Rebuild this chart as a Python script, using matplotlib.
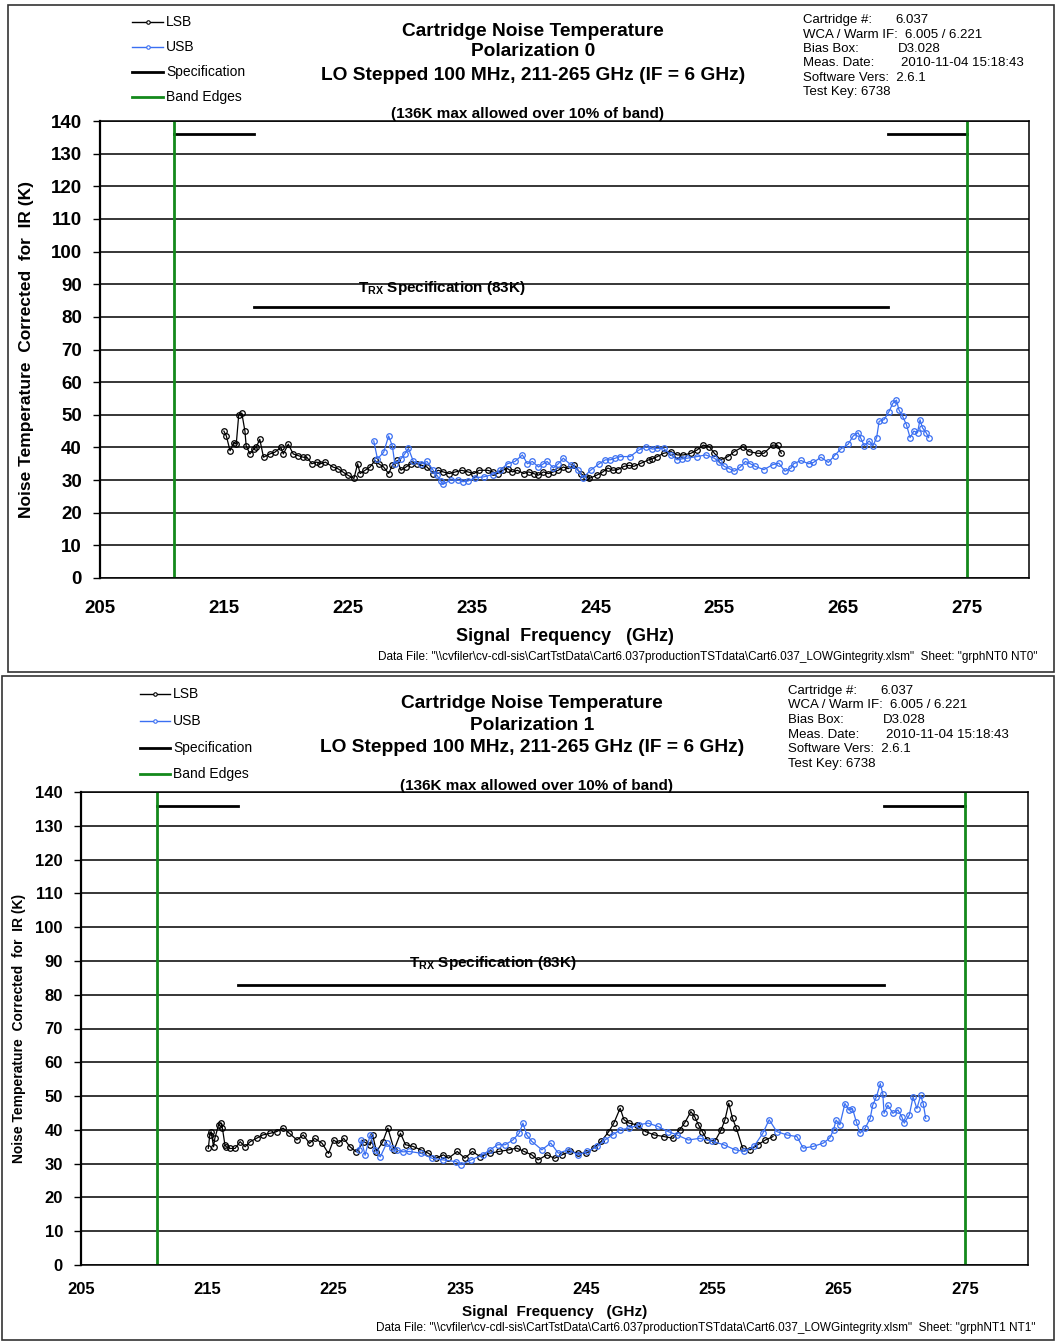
"""
    Cartridge noise temperature, polarization 0 and 1 (LSB / USB).
"""

import matplotlib
matplotlib.use("Agg")
import matplotlib.pyplot as plt
from matplotlib.lines import Line2D
from matplotlib.patches import Rectangle

plt.rcParams['font.family'] = ['Liberation Sans', 'DejaVu Sans']
plt.rcParams['mathtext.fontset'] = 'custom'
plt.rcParams['mathtext.rm'] = 'Liberation Sans'
plt.rcParams['mathtext.bf'] = 'Liberation Sans:bold'

W, H = 1055, 1341
BLUE = "#3a6ff2"
GREEN = "#13891b"

# ---- data, polarization 0 ----
lsb0_f = [215.0, 215.2, 215.5, 215.8, 216.0, 216.2, 216.45, 216.7, 216.8, 217.1, 217.4, 217.6, 217.9, 218.2,
          218.7, 219.1, 219.6, 219.8, 220.2, 220.6, 221.0, 221.4, 221.7, 222.1, 222.5, 222.8, 223.2, 223.8,
          224.2, 224.6, 225.0, 225.5, 225.8, 226.0, 226.4, 226.8, 227.2, 227.5, 227.9, 228.3, 228.6, 229.0,
          229.3, 229.7, 230.1, 230.6, 231.0, 231.4, 231.9, 232.3, 232.7, 233.2, 233.7, 234.2, 234.7, 235.2,
          235.6, 236.3, 236.7, 237.1, 237.5, 237.9, 238.3, 238.7, 239.2, 239.6, 240.0, 240.4, 240.8, 241.2,
          241.6, 242.0, 242.4, 242.8, 243.3, 243.8, 244.2, 244.5, 245.1, 245.6, 246.0, 246.4, 246.8, 247.3,
          247.7, 248.1, 248.7, 249.3, 249.6, 250.0, 250.5, 251.1, 251.6, 252.1, 252.7, 253.2, 253.7, 254.2,
          254.6, 255.1, 255.7, 256.2, 256.9, 257.4, 258.1, 258.6, 259.3, 259.7, 260.0]
lsb0_t = [45.0, 43.5, 39.0, 41.5, 41.0, 50.0, 50.5, 45.0, 40.5, 38.0, 39.5, 40.0, 42.5, 37.0,
          38.0, 38.5, 40.0, 38.0, 41.0, 38.0, 37.5, 37.0, 37.0, 35.0, 35.5, 35.0, 35.5, 34.0,
          33.5, 32.5, 31.5, 30.5, 35.0, 32.0, 33.0, 34.0, 36.0, 35.0, 34.0, 32.0, 34.5, 36.0,
          33.0, 34.0, 35.0, 35.0, 34.5, 34.0, 32.0, 33.0, 32.5, 32.0, 32.5, 33.0, 32.5, 32.0,
          33.0, 33.0, 32.5, 32.0, 33.0, 33.5, 32.5, 33.0, 32.0, 32.5, 32.0, 31.5, 32.5, 32.0,
          32.5, 33.0, 34.0, 33.5, 34.5, 32.0, 31.0, 30.5, 31.5, 32.5, 33.7, 33.0, 33.2, 34.2,
          34.5, 34.2, 35.2, 36.2, 36.5, 37.2, 38.2, 38.7, 37.7, 37.7, 38.2, 39.2, 40.7, 40.2,
          38.2, 36.2, 37.2, 38.7, 40.2, 38.7, 38.2, 38.2, 40.7, 40.7, 38.2]

usb0_f = [227.1, 227.4, 227.9, 228.3, 228.6, 228.8, 229.3, 229.6, 229.9, 230.3, 230.9, 231.4, 231.9, 232.2,
          232.5, 232.7, 233.3, 233.9, 234.3, 234.7, 235.3, 236.0, 236.7, 237.3, 237.9, 238.5, 239.1, 239.5,
          239.9, 240.4, 240.8, 241.1, 241.6, 242.0, 242.4, 243.0, 243.6, 244.0, 244.6, 245.3, 245.8, 246.2,
          246.6, 247.0, 247.8, 248.5, 249.1, 249.6, 250.0, 250.5, 251.1, 251.6, 252.0, 252.4, 253.2, 253.9,
          254.6, 255.0, 255.4, 255.8, 256.2, 256.7, 257.1, 257.5, 257.9, 258.6, 259.3, 259.8, 260.3, 260.8,
          261.0, 261.6, 262.2, 262.6, 263.2, 263.8, 264.3, 264.8, 265.4, 265.8, 266.2, 266.4, 266.7, 267.1,
          267.4, 267.7, 267.9, 268.3, 268.7, 269.0, 269.3, 269.5, 269.8, 270.1, 270.4, 270.7, 271.0, 271.2,
          271.4, 271.7, 271.9]
usb0_t = [42.0, 36.5, 38.5, 43.5, 40.5, 35.0, 36.5, 38.0, 39.7, 35.7, 35.0, 35.7, 33.0, 31.5,
          29.7, 28.7, 30.0, 30.0, 29.5, 29.7, 30.7, 31.0, 31.7, 33.0, 35.0, 35.7, 37.7, 35.0,
          35.7, 34.0, 35.0, 35.7, 33.7, 35.0, 36.7, 34.7, 33.0, 30.7, 33.0, 35.0, 36.2, 36.2,
          36.7, 37.2, 37.2, 39.2, 40.2, 39.5, 39.7, 39.7, 37.7, 36.2, 36.5, 36.7, 37.2, 37.7,
          36.7, 35.5, 34.2, 33.5, 32.7, 34.0, 35.7, 35.0, 34.2, 33.2, 34.7, 35.2, 32.7, 33.7,
          35.0, 36.0, 35.0, 35.4, 37.0, 35.4, 37.5, 39.5, 41.0, 43.5, 44.5, 43.0, 40.5, 42.0,
          40.5, 43.0, 48.0, 48.5, 51.0, 53.5, 54.5, 51.5, 49.5, 47.0, 43.0, 45.0, 44.5, 48.5,
          46.0, 44.5, 43.0]

# ---- data, polarization 1 ----
lsb1_f = [215.08, 215.2, 215.3, 215.5, 215.6, 215.9, 216.1, 216.2, 216.4, 216.5, 216.8, 217.2, 217.6, 218.0,
          218.4, 218.9, 219.4, 220.0, 220.5, 221.0, 221.5, 222.1, 222.6, 223.1, 223.5, 224.1, 224.6, 225.0,
          225.4, 225.8, 226.3, 226.8, 227.4, 227.9, 228.1, 228.4, 228.9, 229.3, 229.8, 230.3, 230.7, 231.3,
          231.9, 232.5, 233.1, 233.7, 234.1, 234.8, 235.4, 236.0, 236.6, 237.4, 238.1, 238.9, 239.5, 240.1,
          240.7, 241.2, 241.9, 242.5, 243.1, 243.7, 244.4, 245.0, 245.6, 246.2, 246.8, 247.2, 247.7, 248.0,
          248.4, 249.0, 249.7, 250.4, 251.2, 251.9, 252.4, 252.8, 253.3, 253.6, 253.9, 254.2, 254.6, 255.2,
          255.7, 256.0, 256.3, 256.6, 256.9, 257.4, 258.0, 258.6, 259.2, 259.8]
lsb1_t = [34.5, 38.5, 39.5, 35.0, 37.5, 41.5, 42.0, 40.5, 35.5, 35.0, 34.5, 34.5, 36.5, 35.0,
          36.5, 37.5, 38.5, 39.0, 39.5, 40.5, 39.0, 37.0, 38.5, 36.0, 37.5, 36.0, 33.0, 37.0,
          36.0, 37.5, 35.0, 33.5, 36.5, 35.5, 38.5, 33.5, 36.5, 40.5, 34.1, 39.0, 35.6, 35.1,
          34.1, 33.1, 31.6, 32.6, 31.6, 33.6, 31.6, 33.6, 32.1, 33.1, 33.6, 34.1, 34.6, 33.6,
          32.6, 31.1, 32.6, 31.6, 32.6, 33.6, 33.1, 33.1, 34.6, 36.6, 39.5, 42.0, 46.4, 43.0,
          42.0, 41.5, 39.5, 38.5, 38.0, 37.5, 40.0, 42.0, 45.4, 43.9, 41.5, 39.5, 37.0, 36.6,
          40.0, 43.0, 47.9, 43.4, 40.5, 34.6, 34.1, 35.6, 37.0, 38.0]

usb1_f = [227.0, 227.2, 227.5, 227.9, 228.3, 228.7, 229.2, 229.6, 230.0, 230.5, 231.0, 231.9, 232.8, 233.7,
          234.7, 235.1, 235.9, 236.8, 237.4, 238.0, 238.6, 239.2, 239.7, 240.0, 240.3, 240.7, 241.5, 242.2,
          242.8, 243.6, 244.4, 245.1, 245.9, 246.5, 247.1, 247.7, 248.4, 249.2, 249.9, 250.7, 251.5, 252.2,
          253.1, 254.0, 255.0, 255.9, 256.8, 257.5, 258.3, 259.0, 259.5, 260.1, 260.9, 261.7, 262.2, 263.0,
          263.8, 264.3, 264.6, 264.8, 265.1, 265.5, 265.8, 266.1, 266.4, 266.7, 267.1, 267.5, 267.7, 268.0,
          268.3, 268.5, 268.6, 268.9, 269.3, 269.7, 270.0, 270.2, 270.6, 270.9, 271.2, 271.5, 271.7, 271.9]
usb1_t = [34.0, 37.0, 32.5, 38.5, 34.0, 32.0, 36.0, 34.5, 34.0, 33.5, 33.6, 33.1, 31.6, 31.1,
          30.6, 29.7, 31.1, 32.6, 34.1, 35.6, 35.6, 37.0, 39.0, 42.0, 38.5, 36.6, 34.1, 36.1,
          33.1, 34.1, 32.6, 33.6, 35.1, 37.0, 38.5, 40.0, 40.5, 41.5, 42.0, 41.0, 39.5, 38.5,
          37.0, 37.5, 36.6, 35.6, 34.1, 33.6, 35.1, 39.0, 43.0, 39.5, 38.5, 38.0, 34.6, 35.1,
          36.1, 37.6, 40.0, 42.9, 41.5, 47.8, 45.9, 46.3, 42.4, 39.0, 40.5, 43.4, 47.3, 49.8,
          53.7, 50.7, 44.9, 47.3, 44.9, 45.9, 43.9, 42.0, 44.4, 49.8, 46.3, 50.2, 47.8, 43.4]

band_edges = [211, 275]
spec_limit = 83
spec_max = 136
spec_f = [217.4, 268.6]
x_ticks = [205, 215, 225, 235, 245, 255, 265, 275]
y_ticks = list(range(0, 141, 10))

info_keys = ["Cartridge #:", "WCA / Warm IF:  6.005 / 6.221", "Bias Box:", "Meas. Date:",
             "Software Vers:  2.6.1", "Test Key: 6738"]
info_vals = ["6.037", "", "D3.028", "2010-11-04 15:18:43", "", ""]
data_file = ('Data File: "\\\\cvfiler\\cv-cdl-sis\\CartTstData\\Cart6.037productionTSTdata\\'
             'Cart6.037_LOWGintegrity.xlsm"  Sheet: "grphNT{0} NT{0}"')


def fx(px):
    return px / W


def fy(py):
    return 1 - py / H


def draw_panel(fig, pol, box, frame, lsb, usb, sizes, anchors):
    tick_fs, ylab_fs, xlab_fs = sizes
    left, top, right, bottom = box
    ax = fig.add_axes([fx(left), fy(bottom), fx(right) - fx(left), fy(top) - fy(bottom)])

    for y in y_ticks:
        ax.axhline(y, color="black", lw=1.1, zorder=1)
    ax.plot(lsb[0], lsb[1], color="black", lw=0.9, marker="o", ms=4, mfc="none", mew=0.9, zorder=3)
    ax.plot(usb[0], usb[1], color=BLUE, lw=0.9, marker="o", ms=4, mfc="none", mew=0.9, zorder=3)
    ax.plot(spec_f, [spec_limit, spec_limit], color="black", lw=2, zorder=2)
    ax.plot([band_edges[0], spec_f[0]], [spec_max, spec_max], color="black", lw=2, zorder=2)
    ax.plot([spec_f[1], band_edges[1]], [spec_max, spec_max], color="black", lw=2, zorder=2)
    for b in band_edges:
        ax.axvline(b, color=GREEN, lw=2, zorder=2)

    ax.set_xlim(205, 280)
    ax.set_ylim(0, 140)
    ax.set_xticks(x_ticks)
    ax.set_yticks(y_ticks)
    ax.tick_params(axis="x", length=0, pad=anchors["xpad"], labelsize=tick_fs)
    ax.tick_params(axis="y", length=5, width=1, direction="out", labelsize=tick_fs, pad=8)
    for lab in ax.get_xticklabels() + ax.get_yticklabels():
        lab.set_fontweight("bold")
    for s in ax.spines.values():
        s.set_linewidth(1.1)
    ax.spines["left"].set_linewidth(1.6)
    ax.set_xlabel("Signal  Frequency   (GHz)", fontsize=xlab_fs, fontweight="bold", labelpad=anchors["xlpad"])
    ax.set_ylabel("Noise Temperature  Corrected  for  IR (K)", fontsize=ylab_fs, fontweight="bold")
    ax.yaxis.set_label_coords(anchors["ylx"], 0.5)

    ax.text(anchors["maxtxt"][0], anchors["maxtxt"][1], "(136K max allowed over 10% of band)",
            ha="center", va="center", fontsize=11, fontweight="bold", clip_on=False)
    ax.text(anchors["spectxt"][0], anchors["spectxt"][1], r"T$_{\mathbf{RX}}$ Specification (83K)",
            ha="center", va="center", fontsize=11, fontweight="bold")

    # titles
    tx, ty = anchors["title"]
    fig.text(fx(tx), fy(ty[0]), "Cartridge Noise Temperature", ha="center", va="center",
             fontsize=13.8, fontweight="bold")
    fig.text(fx(tx), fy(ty[1]), f"Polarization {pol}", ha="center", va="center",
             fontsize=13.8, fontweight="bold")
    fig.text(fx(tx), fy(ty[2]), "LO Stepped 100 MHz, 211-265 GHz (IF = 6 GHz)", ha="center", va="center",
             fontsize=13.8, fontweight="bold")

    # info block
    ix, iy, ivx = anchors["info"]
    for i, (k, v) in enumerate(zip(info_keys, info_vals)):
        fig.text(fx(ix), fy(iy + i * 14.5), k, ha="left", va="center", fontsize=9.5)
        if v:
            fig.text(fx(ivx[i]), fy(iy + i * 14.5), v, ha="left", va="center", fontsize=9.5)

    # legend
    lx0, lx1, ly = anchors["legend"]
    entries = [("LSB", "black", 1, "o"), ("USB", BLUE, 1, "o"),
               ("Specification", "black", 2, None), ("Band Edges", GREEN, 2, None)]
    for i, (name, c, lw, m) in enumerate(entries):
        yy = fy(ly[i])
        fig.add_artist(Line2D([fx(lx0), fx(lx1)], [yy, yy], color=c, lw=lw))
        if m:
            fig.add_artist(Line2D([fx((lx0 + lx1) / 2)], [yy], color=c, marker=m, ms=2.5, mfc="white", mew=0.8))
        fig.text(fx(lx1 + 3), yy, name, ha="left", va="center", fontsize=10)

    dx, dy = anchors["datafile"]
    fig.text(fx(dx), fy(dy), data_file.format(pol), ha="right", va="center", fontsize=8.5)

    fl, ft, fr, fb = frame
    fig.add_artist(Rectangle((fx(fl), fy(fb)), fx(fr) - fx(fl), fy(ft) - fy(fb),
                             transform=fig.transFigure, fill=False, ec="#333333", lw=1.2))


fig = plt.figure(figsize=(W / 100, H / 100), dpi=100)

draw_panel(fig, 0, (100, 121, 1029, 578), (8, 5, 1054, 672), (lsb0_f, lsb0_t), (usb0_f, usb0_t),
           (13.5, 12.5, 13),
           {"xpad": 16, "xlpad": 8, "ylx": -0.071, "maxtxt": (239.5, 142.2), "spectxt": (232.6, 88.8),
            "title": (533, (31, 52, 75)), "info": (803, 20, [895, 0, 898, 901, 0, 0]),
            "legend": (132, 163, (22, 47, 72, 97)), "datafile": (1038, 657)})

draw_panel(fig, 1, (81, 792, 1028, 1265), (2, 676, 1054, 1340), (lsb1_f, lsb1_t), (usb1_f, usb1_t),
           (12, 10, 11),
           {"xpad": 12, "xlpad": 6, "ylx": -0.058, "maxtxt": (241.1, 141.8), "spectxt": (237.6, 89.4),
            "title": (532, (703, 725, 747)), "info": (788, 691, [880, 0, 883, 886, 0, 0]),
            "legend": (140, 170, (694, 721, 748, 774)), "datafile": (1036, 1328)})

fig.savefig("out.png", dpi=100)
